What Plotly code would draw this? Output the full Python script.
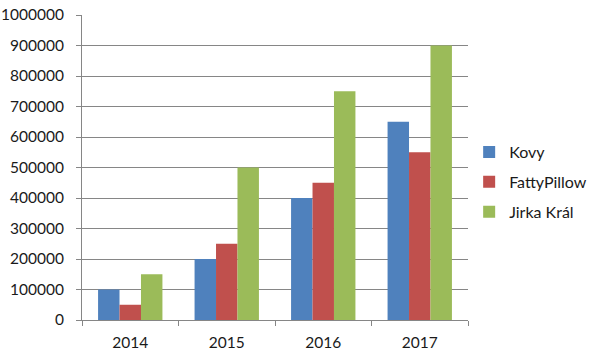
import plotly.graph_objects as go

years = ["2014", "2015", "2016", "2017"]
kovy = [100000, 200000, 400000, 650000]
fatty = [50000, 250000, 450000, 550000]
jirka = [150000, 500000, 750000, 900000]
series_names = ["Kovy", "FattyPillow", "Jirka Král"]
colors = ["#4F81BD", "#C0504D", "#9BBB59"]

fig = go.Figure()
for i, (name, vals) in enumerate(zip(series_names, [kovy, fatty, jirka])):
    fig.add_trace(go.Bar(x=years, y=vals, name=name, marker_color=colors[i],
                         marker_line_width=0, legendgroup=name))

grid = "#868686"
fig.update_layout(
    width=600, height=356,
    margin=dict(l=82, r=132, t=15, b=36, autoexpand=False),
    paper_bgcolor="white", plot_bgcolor="white",
    font=dict(family="Lato, Liberation Sans, sans-serif", size=15.5, color="#1a1a1a"),
    barmode="group", bargap=0.333, bargroupgap=0,
    legend=dict(x=1.003, y=0.452, xanchor="left", yanchor="middle",
                tracegroupgap=6, itemwidth=30, font=dict(size=16)),
    xaxis=dict(showline=True, linecolor=grid, linewidth=1, ticks="outside",
               tickson="boundaries", ticklen=5, tickcolor=grid, showgrid=False,
               automargin=False, ticklabelstandoff=8, ticklabeloverflow="allow"),
    yaxis=dict(range=[0, 1000000], dtick=100000, showline=True, linecolor=grid,
               linewidth=1, ticks="outside", ticklen=5, tickcolor=grid,
               gridcolor=grid, gridwidth=1, tickformat="d", zeroline=False,
               automargin=False, ticklabelstandoff=9, ticklabeloverflow="allow"),
)
fig.write_html("out.html", config={"displayModeBar": False},
               post_script="document.body.style.margin='0';")
